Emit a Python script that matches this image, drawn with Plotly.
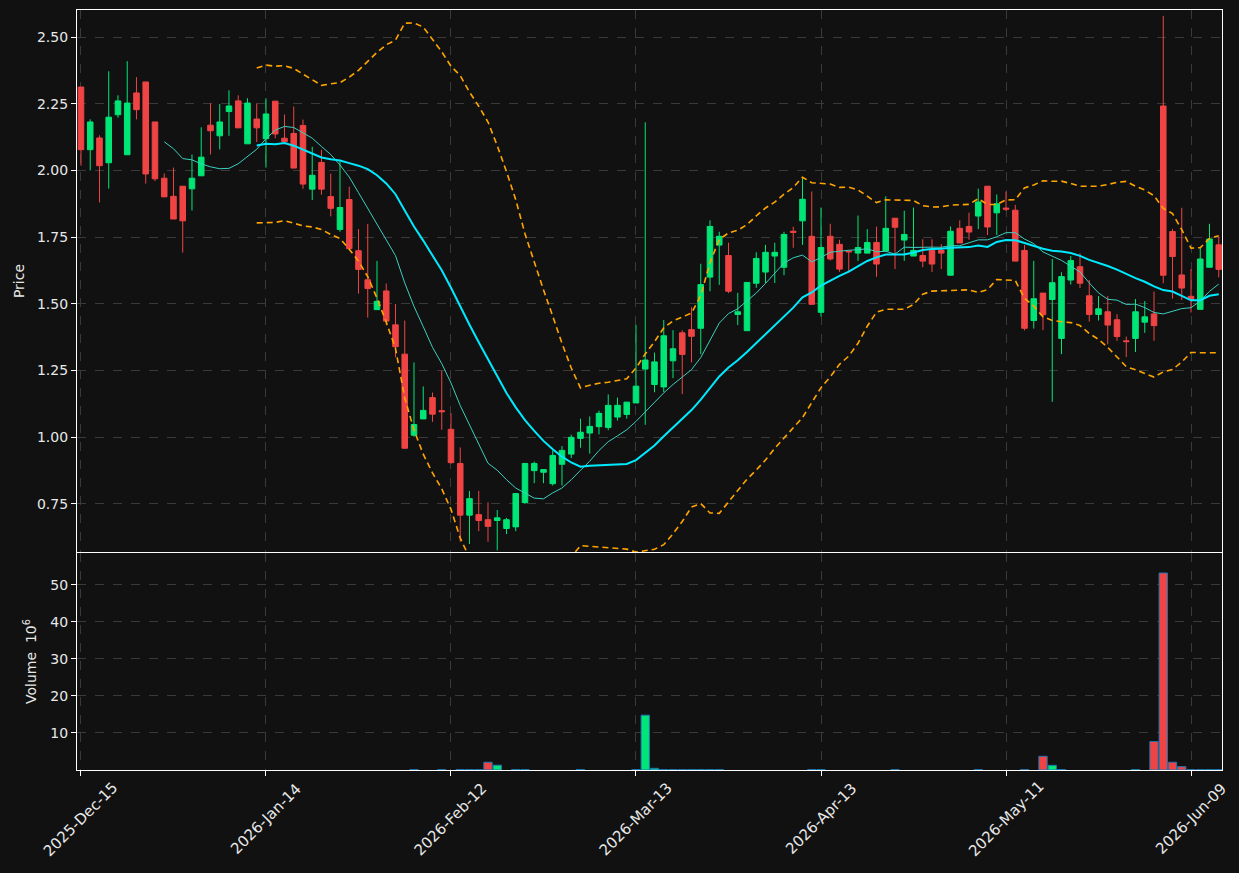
import pandas as pd
import plotly.graph_objects as go

# ---------------- data ----------------
holidays = ["2025-12-25", "2026-01-01", "2026-01-19", "2026-02-16", "2026-04-03", "2026-05-25"]
dates = [d.strftime("%Y-%m-%d") for d in
         pd.bdate_range("2025-12-15", "2026-06-12", freq="C", holidays=holidays)]

opens = [2.313, 2.078, 2.122, 2.029, 2.209, 2.059, 2.291, 2.332, 2.182, 1.971,
         1.903, 1.941, 1.931, 1.980, 2.170, 2.130, 2.221, 2.261, 2.100, 2.193,
         2.119, 2.260, 2.121, 2.139, 2.169, 1.930, 2.030, 1.902, 1.779, 1.891,
         1.699, 1.590, 1.478, 1.548, 1.421, 1.311, 1.007, 1.068, 1.148, 1.099,
         1.029, 0.901, 0.707, 0.709, 0.690, 0.687, 0.657, 0.663, 0.754, 0.874,
         0.868, 0.825, 0.898, 0.936, 0.995, 1.015, 1.039, 1.036, 1.075, 1.085,
         1.128, 1.255, 1.197, 1.188, 1.286, 1.391, 1.403, 1.408, 1.600, 1.720,
         1.681, 1.460, 1.399, 1.577, 1.619, 1.679, 1.637, 1.772, 1.811, 1.753,
         1.468, 1.753, 1.723, 1.698, 1.690, 1.690, 1.730, 1.698, 1.821, 1.739,
         1.679, 1.681, 1.700, 1.700, 1.607, 1.783, 1.790, 1.829, 1.941, 1.841,
         1.859, 1.851, 1.700, 1.437, 1.540, 1.516, 1.370, 1.589, 1.639, 1.530,
         1.460, 1.470, 1.440, 1.361, 1.370, 1.431, 1.462, 2.242, 1.771, 1.608,
         1.528, 1.479, 1.637, 1.721]
highs = [2.313, 2.192, 2.132, 2.372, 2.282, 2.410, 2.350, 2.332, 2.182, 1.989,
         2.011, 1.941, 2.060, 2.162, 2.252, 2.249, 2.301, 2.282, 2.271, 2.252,
         2.271, 2.260, 2.210, 2.240, 2.191, 2.089, 2.078, 1.988, 2.034, 1.939,
         1.780, 1.799, 1.661, 1.576, 1.499, 1.437, 1.280, 1.190, 1.167, 1.249,
         1.089, 0.961, 0.798, 0.798, 0.755, 0.726, 0.697, 0.788, 0.901, 0.908,
         0.880, 0.950, 0.966, 1.009, 1.069, 1.077, 1.099, 1.160, 1.148, 1.131,
         1.421, 2.181, 1.317, 1.439, 1.401, 1.401, 1.487, 1.650, 1.813, 1.770,
         1.729, 1.541, 1.580, 1.693, 1.721, 1.729, 1.770, 1.789, 1.970, 1.921,
         1.861, 1.800, 1.740, 1.698, 1.831, 1.780, 1.789, 1.903, 1.821, 1.849,
         1.861, 1.742, 1.742, 1.724, 1.790, 1.813, 1.842, 1.932, 1.941, 1.910,
         1.921, 1.871, 1.720, 1.661, 1.540, 1.668, 1.618, 1.679, 1.689, 1.589,
         1.529, 1.529, 1.461, 1.377, 1.518, 1.510, 1.546, 2.580, 1.781, 1.860,
         1.630, 1.710, 1.800, 1.751]
lows = [2.018, 2.000, 1.880, 1.932, 2.198, 2.059, 2.192, 1.951, 1.960, 1.901,
        1.818, 1.692, 1.850, 1.980, 2.060, 2.079, 2.130, 2.160, 2.100, 2.107,
        2.011, 2.121, 2.108, 2.009, 1.931, 1.889, 1.909, 1.828, 1.770, 1.707,
        1.538, 1.448, 1.478, 1.419, 1.299, 0.958, 1.001, 1.068, 1.057, 1.027,
        0.900, 0.607, 0.599, 0.647, 0.607, 0.575, 0.636, 0.647, 0.749, 0.827,
        0.827, 0.818, 0.818, 0.921, 0.960, 0.938, 1.010, 1.026, 1.062, 1.069,
        1.128, 1.046, 1.168, 1.168, 1.221, 1.161, 1.280, 1.311, 1.547, 1.571,
        1.540, 1.420, 1.399, 1.560, 1.578, 1.578, 1.607, 1.710, 1.721, 1.498,
        1.452, 1.662, 1.620, 1.622, 1.661, 1.690, 1.601, 1.698, 1.630, 1.661,
        1.679, 1.637, 1.619, 1.630, 1.607, 1.728, 1.740, 1.780, 1.758, 1.758,
        1.848, 1.660, 1.400, 1.407, 1.401, 1.132, 1.311, 1.572, 1.559, 1.433,
        1.437, 1.348, 1.361, 1.300, 1.319, 1.391, 1.361, 1.577, 1.519, 1.514,
        1.467, 1.479, 1.637, 1.599]
closes = [2.078, 2.182, 2.018, 2.200, 2.261, 2.253, 2.228, 1.987, 1.969, 1.901,
          1.818, 1.811, 1.971, 2.050, 2.149, 2.182, 2.242, 2.160, 2.253, 2.160,
          2.212, 2.137, 2.108, 2.009, 1.949, 1.982, 1.930, 1.858, 1.861, 1.707,
          1.629, 1.557, 1.509, 1.435, 1.339, 0.958, 1.047, 1.100, 1.086, 1.095,
          0.904, 0.707, 0.769, 0.687, 0.665, 0.697, 0.690, 0.788, 0.901, 0.901,
          0.878, 0.931, 0.950, 0.999, 1.018, 1.040, 1.089, 1.119, 1.119, 1.131,
          1.191, 1.289, 1.282, 1.380, 1.331, 1.310, 1.378, 1.572, 1.790, 1.753,
          1.547, 1.470, 1.580, 1.670, 1.693, 1.693, 1.760, 1.768, 1.892, 1.498,
          1.711, 1.668, 1.630, 1.695, 1.711, 1.730, 1.649, 1.783, 1.787, 1.760,
          1.700, 1.660, 1.649, 1.690, 1.772, 1.728, 1.769, 1.882, 1.788, 1.875,
          1.855, 1.660, 1.408, 1.519, 1.459, 1.579, 1.602, 1.662, 1.577, 1.460,
          1.481, 1.420, 1.377, 1.358, 1.470, 1.451, 1.418, 1.607, 1.677, 1.559,
          1.516, 1.668, 1.743, 1.629]

# volume in millions (None = no bar drawn)
volumes = [None] * 36 + [
    0.1, None, None, 0.1, None, 0.1, 0.1, 0.1, 2.1, 1.3,          # 36-45
    None, 0.1, 0.1, None, None, None, None, None, 0.1, None,      # 46-55
    None, None, None, None, 0.1, 14.8, 0.45, 0.1, 0.1, 0.1,       # 56-65
    0.1, 0.1, 0.1, 0.1, None, None, None, None, None, None,       # 66-75
    None, None, None, 0.1, 0.1, None, None, None, None, None,     # 76-85
    None, None, 0.1, None, None, None, None, None, None, None,    # 86-95
    None, 0.1, None, None, None, None, 0.1, None, 3.7, 1.26,      # 96-105
    0.1, None, None, None, None, None, None, None, 0.1, None,     # 106-115
    7.7, 53.2, 2.1, 0.9, 0.1, 0.1, 0.1, 0.1]                      # 116-123

tick_dates = ["2025-12-15", "2026-01-14", "2026-02-12", "2026-03-13",
              "2026-04-13", "2026-05-11", "2026-06-09"]
tick_labels = ["2025-Dec-15", "2026-Jan-14", "2026-Feb-12", "2026-Mar-13",
               "2026-Apr-13", "2026-May-11", "2026-Jun-09"]

# ---------------- styling ----------------
UP = "#00e676"
DOWN = "#f04444"
BG = "#111111"
GRID = "#3a3a3a"
TXT = "#e8e8e8"
FONT = "DejaVu Sans"

close_s = pd.Series(closes)
ma10 = close_s.rolling(10).mean()
ma20 = close_s.rolling(20).mean()
sd20 = close_s.rolling(20).std()
upper = ma20 + 2 * sd20
lower = ma20 - 2 * sd20

vol_colors = [UP if c >= o else DOWN for o, c in zip(opens, closes)]

fig = go.Figure()
fig.add_trace(go.Candlestick(
    x=dates, open=opens, high=highs, low=lows, close=closes,
    increasing=dict(fillcolor=UP, line=dict(color=UP, width=1)),
    decreasing=dict(fillcolor=DOWN, line=dict(color=DOWN, width=1)),
    whiskerwidth=0, xaxis="x", yaxis="y", showlegend=False))
fig.add_trace(go.Scatter(x=dates, y=ma10, mode="lines",
                         line=dict(color="#3ccfc0", width=1), xaxis="x", yaxis="y",
                         showlegend=False))
fig.add_trace(go.Scatter(x=dates, y=ma20, mode="lines",
                         line=dict(color="#00eaff", width=2), xaxis="x", yaxis="y",
                         showlegend=False))
for band in (upper, lower):
    fig.add_trace(go.Scatter(x=dates, y=band, mode="lines",
                             line=dict(color="#ffa500", width=1.6, dash="6px,4px"),
                             xaxis="x", yaxis="y", showlegend=False))
fig.add_trace(go.Bar(x=dates, y=volumes, marker=dict(color=vol_colors,
                     line=dict(color="#1f77b4", width=1)),
                     width=0.9, xaxis="x2", yaxis="y2", showlegend=False))

# rotated date labels centred under their ticks (matplotlib style)
for d, lab in zip(tick_dates, tick_labels):
    fig.add_annotation(x=d, xref="x2", y=-0.0645, yref="paper", text=lab,
                       textangle=-45, showarrow=False, xanchor="center", yanchor="middle",
                       font=dict(family=FONT, size=15, color=TXT))

xr = [-0.43, 123.35]
common_x = dict(type="category", range=xr, showgrid=True, gridcolor=GRID, griddash="dash",
                gridwidth=0.8, tickvals=tick_dates, showline=True, linecolor="white",
                linewidth=1.2, mirror=True, zeroline=False)
fig.update_layout(
    width=1239, height=873,
    paper_bgcolor=BG, plot_bgcolor=BG,
    margin=dict(l=77, r=17, t=10, b=103),
    font=dict(family=FONT, size=14, color=TXT),
    bargap=0.1, boxgap=0.25, boxgroupgap=0.2,
    xaxis=dict(**common_x, domain=[0, 1], anchor="y", showticklabels=False, ticks="",
               rangeslider=dict(visible=False), matches="x2"),
    xaxis2=dict(**common_x, domain=[0, 1], anchor="y2", showticklabels=False,
                ticks="outside", ticklen=5, tickcolor="white"),
    yaxis=dict(domain=[0.2868, 1], range=[0.5687, 2.602],
               tickvals=[0.75, 1.0, 1.25, 1.5, 1.75, 2.0, 2.25, 2.5], tickformat=".2f",
               tickfont=dict(family=FONT, size=14, color=TXT),
               showgrid=True, gridcolor=GRID, griddash="dash", gridwidth=0.8,
               showline=True, linecolor="white", linewidth=1.2, mirror=True,
               ticks="outside", ticklen=5, tickcolor="white", zeroline=False,
               title=dict(text="Price", standoff=9, font=dict(family=FONT, size=14, color=TXT))),
    yaxis2=dict(domain=[0, 0.2855], range=[0, 58.6], tickvals=[10, 20, 30, 40, 50],
                tickfont=dict(family=FONT, size=14, color=TXT),
                showgrid=True, gridcolor=GRID, griddash="dash", gridwidth=0.8,
                showline=True, linecolor="white", linewidth=1.2, mirror=True,
                ticks="outside", ticklen=5, tickcolor="white", zeroline=False,
                title=dict(text="Volume  10<sup>6</sup>", standoff=10,
                           font=dict(family=FONT, size=14, color=TXT))),
)

fig.write_html("out.html")
